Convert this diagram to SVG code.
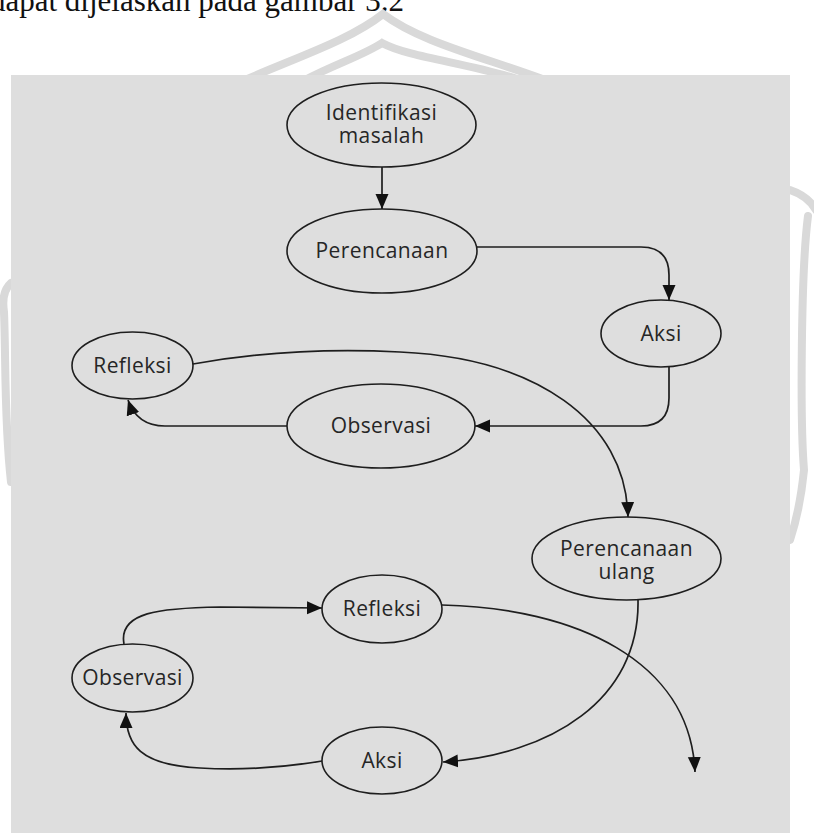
<svg xmlns="http://www.w3.org/2000/svg" width="814" height="833" viewBox="0 0 814 833">
<style>
.bg{fill:#dedede}
.wm{fill:none;stroke:#d9d9d9;stroke-width:8;stroke-linecap:round}
.node ellipse{fill:#dedede;stroke:#1e1e1e;stroke-width:1.6}
.node text{font-family:"Open Sans","Noto Sans",sans-serif;font-size:21px;fill:#262626;text-anchor:middle;letter-spacing:0.4px}
.conn path{fill:none;stroke:#1e1e1e;stroke-width:1.7}
.cap{font-family:"Liberation Serif","Times New Roman",serif;font-size:31px;fill:#111}
</style>
<defs>
<marker id="arr" markerUnits="userSpaceOnUse" markerWidth="16" markerHeight="14" refX="15" refY="6.5" orient="auto">
<path d="M0,0 L15,6.5 L0,13 Z" fill="#111"/>
</marker>
</defs>
<rect width="814" height="833" fill="#ffffff"/>
<text class="cap" x="404" y="11" text-anchor="end">dapat dijelaskan pada gambar 3.2</text>
<g id="watermark">
<path class="wm" d="M245,80 C300,56 350,40 383,14 C420,42 480,56 545,80"/>
<path class="wm" d="M305,80 C335,64 362,56 382,43 C410,58 470,63 520,80"/>
<path class="wm" d="M790,190 Q808,196 816,210"/>
<path class="wm" d="M808,216 C801,270 800,420 804,470 Q800,510 790,540"/>
<path class="wm" d="M11,283 Q1,292 4,312 C6,360 4,420 11,482" stroke-width="6"/>
</g>
<rect class="bg" x="11" y="75" width="779" height="758"/>
<g class="conn" id="connectors">
<path d="M382,167 L382,209" marker-end="url(#arr)"/>
<path d="M477,247 L641,247 Q669,247 669,275 L669,300" marker-end="url(#arr)"/>
<path d="M669,367 L669,398 Q669,426 641,426 L475,426" marker-end="url(#arr)"/>
<path d="M287,426 L165,426 Q137,426 128,400" marker-end="url(#arr)"/>
<path d="M193,364 C270,350 340,349 400,352 C535,358 626,420 628,517" marker-end="url(#arr)"/>
<path d="M638,600 C640,700 550,755 443,762" marker-end="url(#arr)"/>
<path d="M322,761 C280,768 235,770 200,768 C140,765 126,745 126,713" marker-end="url(#arr)"/>
<path d="M124,644 C118,612 160,608 220,607 L322,608" marker-end="url(#arr)"/>
<path d="M442,605 C575,608 690,660 695,772" marker-end="url(#arr)"/>
</g>
<g class="node" id="identifikasi">
<ellipse cx="381.5" cy="125" rx="94.5" ry="42"/>
<text x="381.5" y="120">Identifikasi<tspan x="381.5" dy="23">masalah</tspan></text>
</g>
<g class="node" id="perencanaan">
<ellipse cx="382" cy="251" rx="95" ry="42"/>
<text x="382" y="258">Perencanaan</text>
</g>
<g class="node" id="aksi1">
<ellipse cx="661" cy="333.5" rx="60" ry="33.5"/>
<text x="661" y="341">Aksi</text>
</g>
<g class="node" id="observasi1">
<ellipse cx="381" cy="426" rx="94" ry="42"/>
<text x="381" y="433">Observasi</text>
</g>
<g class="node" id="refleksi1">
<ellipse cx="132.5" cy="365.5" rx="60.5" ry="33.5"/>
<text x="132.5" y="373">Refleksi</text>
</g>
<g class="node" id="perencanaan-ulang">
<ellipse cx="626.5" cy="558.5" rx="94.5" ry="41.5"/>
<text x="626.5" y="556">Perencanaan<tspan x="626.5" dy="23">ulang</tspan></text>
</g>
<g class="node" id="refleksi2">
<ellipse cx="382" cy="609" rx="60" ry="34"/>
<text x="382" y="616">Refleksi</text>
</g>
<g class="node" id="observasi2">
<ellipse cx="132.5" cy="678" rx="60.5" ry="34"/>
<text x="132.5" y="685">Observasi</text>
</g>
<g class="node" id="aksi2">
<ellipse cx="382" cy="760.5" rx="60" ry="33.5"/>
<text x="382" y="768">Aksi</text>
</g>
</svg>
